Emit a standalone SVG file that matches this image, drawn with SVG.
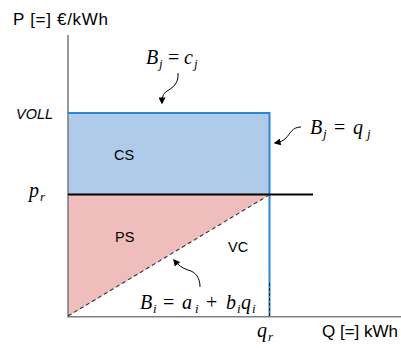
<svg xmlns="http://www.w3.org/2000/svg" width="401" height="348" viewBox="0 0 401 348">
<defs>
<style>
.lbl{font-family:"Liberation Sans",Arial,sans-serif;fill:#000}
.ax{font-size:17px}
.reg{font-size:14.5px}
.m{font-family:"Liberation Serif","Times New Roman",serif;font-style:italic;fill:#000;font-size:20px}
.ms{font-size:13px}
.op{font-style:normal}
.axis{stroke:#7f7f7f;stroke-width:1.6;fill:none}
.blue{stroke:#2b87d6;stroke-width:2;fill:none}
.arr{stroke:#000;stroke-width:1;fill:none;marker-end:url(#ah)}
</style>
<marker id="ah" viewBox="0 0 10 10" refX="8" refY="5" markerWidth="7" markerHeight="7" orient="auto" markerUnits="userSpaceOnUse">
<path d="M0,0 L10,5 L0,10 z" fill="#000"/>
</marker>
</defs>
<rect width="401" height="348" fill="#fff"/>
<g id="areas">
<rect id="cs-area" x="68" y="113" width="201.5" height="81.5" fill="#aecbe9"/>
<polygon id="ps-area" points="68,194.5 269.5,194.5 68,316.5" fill="#f0bdbd"/>
</g>
<g id="connectors">
<line class="axis" x1="68" y1="35" x2="68" y2="316.7"/>
<line class="axis" x1="67.2" y1="316.7" x2="401" y2="316.7"/>
<path class="blue" d="M68,113 H269.5 V316"/>
<line x1="68" y1="194.5" x2="313" y2="194.5" stroke="#000" stroke-width="2"/>
<line x1="68" y1="316" x2="269" y2="195" stroke="#333" stroke-width="1.1" stroke-dasharray="4,3"/>
<line x1="269.5" y1="283" x2="269.5" y2="316" stroke="#222" stroke-width="1" stroke-dasharray="3,2"/>
<path class="arr" d="M178,73 C179,84 172,88 167,91 C163,94 162,97 162,103"/>
<path class="arr" d="M301,127 C292,127 290,134 286,138 C283,141 280,142 275,143"/>
<path class="arr" d="M200,287 C200,278 196,272 188,270 C182,268 178,265 174,260"/>
</g>
<g id="axis-labels">
<text class="lbl ax" x="13" y="25" textLength="95">P [=] €/kWh</text>
<text class="lbl ax" x="322" y="337">Q [=] kWh</text>
</g>
<g id="tick-labels">
<text class="lbl" x="16" y="119" font-size="14.5" font-style="italic">VOLL</text>
<text class="m" x="29" y="197">p<tspan class="ms" x="40" y="201">r</tspan></text>
<text class="m" x="257" y="337">q<tspan class="ms" x="268" y="341">r</tspan></text>
</g>
<g id="region-labels">
<text class="lbl reg" x="114" y="160">CS</text>
<text class="lbl reg" x="115" y="242">PS</text>
<text class="lbl reg" x="228" y="252">VC</text>
</g>
<g id="eq-cj">
<text class="m" x="146" y="64">B<tspan class="ms" x="159" y="68">j</tspan><tspan class="op" x="168" y="64">=</tspan><tspan x="184">c</tspan><tspan class="ms" x="194" y="68">j</tspan></text>
</g>
<g id="eq-qj">
<text class="m" x="310" y="134">B<tspan class="ms" x="323" y="138">j</tspan><tspan class="op" x="334" y="134">=</tspan><tspan x="353">q</tspan><tspan class="ms" x="367" y="138">j</tspan></text>
</g>
<g id="eq-bi">
<text class="m" x="140" y="309">B<tspan class="ms" x="153" y="313">i</tspan><tspan class="op" x="163" y="309">=</tspan><tspan x="182">a</tspan><tspan class="ms" x="195" y="313">i</tspan><tspan class="op" x="206" y="309">+</tspan><tspan x="226">b</tspan><tspan class="ms" x="237" y="313">i</tspan><tspan x="241" y="309">q</tspan><tspan class="ms" x="252" y="313">i</tspan></text>
</g>
</svg>
